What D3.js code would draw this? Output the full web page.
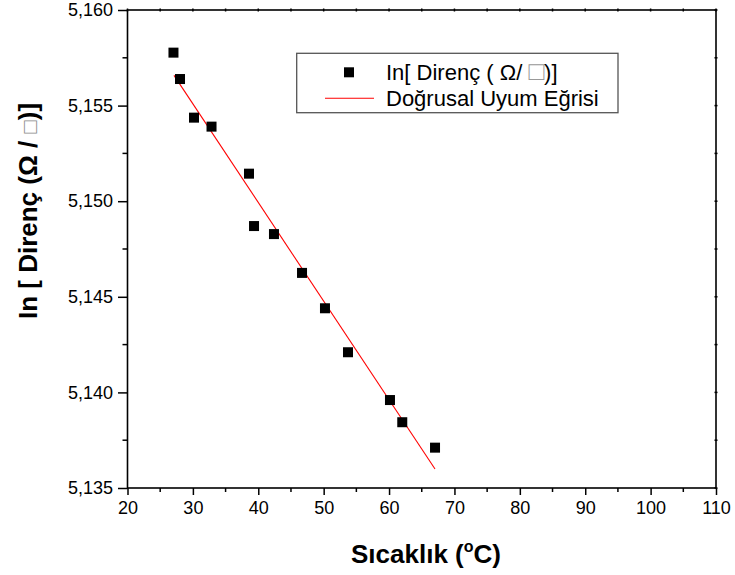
<!DOCTYPE html>
<html>
<head>
<meta charset="utf-8">
<script src="https://cdn.jsdelivr.net/npm/d3@7"></script>
<style>
  html, body { margin: 0; padding: 0; background: #fff; }
  svg { display: block; font-family: "Liberation Sans", Arial, Helvetica, sans-serif; }
</style>
</head>
<body>
<svg id="chart" width="735" height="575"></svg>
<script>
// ---- data ----
const temperature = [27.03, 28.03, 30.17, 32.85, 38.58, 39.35, 42.40, 46.69, 50.20, 53.72, 60.14, 62.02, 67.03];
const lnResistance = [5.15777, 5.15639, 5.15437, 5.15390, 5.15144, 5.14870, 5.14828, 5.14625, 5.14440, 5.14210, 5.13960, 5.13844, 5.13711];
const fitX = [27.11, 67.03];
const fitY = [5.15658, 5.13599];
const xTicks = [20, 30, 40, 50, 60, 70, 80, 90, 100, 110];
const yTicks = [5.135, 5.140, 5.145, 5.150, 5.155, 5.160];
const legendLabels = ["In[ Direnç ( Ω/ ", "Doğrusal Uyum Eğrisi"];

// ---- layout ----
const svg = d3.select("#chart");
const L = 127.5, R = 716, T = 10, B = 488;
const x = d3.scaleLinear().domain([20, 110]).range([L, R]);
const y = d3.scaleLinear().domain([5.135, 5.160]).range([B, T]);

const fmt = d => d3.format(".3f")(d).replace(".", ",");
const xMinor = d3.range(25, 110, 10);
const yMinor = d3.range(5.1375, 5.160, 0.005);

// minor ticks
const g = svg.append("g");
g.selectAll(".xminor").data(xMinor).join("line")
  .attr("x1", d => x(d)).attr("x2", d => x(d)).attr("y1", B).attr("y2", B + 4)
  .attr("stroke", "#000").attr("stroke-width", 1.5);
g.selectAll(".yminor").data(yMinor).join("line")
  .attr("x1", L - 5).attr("x2", L).attr("y1", d => y(d)).attr("y2", d => y(d))
  .attr("stroke", "#000").attr("stroke-width", 1.5);
// top / right small ticks
g.selectAll(".xtop").data(xTicks.concat(xMinor)).join("line")
  .attr("x1", d => x(d)).attr("x2", d => x(d)).attr("y1", T - 1.5).attr("y2", T + 1.5)
  .attr("stroke", "#000").attr("stroke-width", 1.5);
g.selectAll(".yright").data(yTicks.concat(yMinor)).join("line")
  .attr("x1", R - 1.5).attr("x2", R + 1.5).attr("y1", d => y(d)).attr("y2", d => y(d))
  .attr("stroke", "#000").attr("stroke-width", 1.5);

// axes
const xAxis = d3.axisBottom(x).tickValues(xTicks).tickSize(7).tickPadding(6).tickFormat(d3.format("d"));
const yAxis = d3.axisLeft(y).tickValues(yTicks).tickSize(9.5).tickPadding(5).tickFormat(fmt);

const gx = svg.append("g").attr("transform", `translate(0,${B})`).call(xAxis);
const gy = svg.append("g").attr("transform", `translate(${L},0)`).call(yAxis);
[gx, gy].forEach(a => {
  a.select(".domain").remove();
  a.selectAll(".tick line").attr("stroke", "#000").attr("stroke-width", 1.5);
  a.selectAll(".tick text").attr("fill", "#000").style("font-size", "18px")
   .style("font-family", "'Liberation Sans', Arial, sans-serif");
});

// frame
svg.append("rect").attr("x", L).attr("y", T).attr("width", R - L).attr("height", B - T)
  .attr("fill", "none").attr("stroke", "#000").attr("stroke-width", 1.6);

// fit line
const line = d3.line().x(d => x(d[0])).y(d => y(d[1]));
svg.append("path").datum(fitX.map((v, i) => [v, fitY[i]]))
  .attr("d", line).attr("fill", "none").attr("stroke", "#ff0000").attr("stroke-width", 1.1);

// points
const ms = 10;
svg.selectAll(".pt").data(temperature.map((v, i) => [v, lnResistance[i]])).join("rect")
  .attr("x", d => x(d[0]) - ms / 2).attr("y", d => y(d[1]) - ms / 2)
  .attr("width", ms).attr("height", ms).attr("fill", "#000");

// legend
const lg = svg.append("g");
lg.append("rect").attr("x", 296.7).attr("y", 53.3).attr("width", 321.3).attr("height", 59.4)
  .attr("fill", "#fff").attr("stroke", "#555").attr("stroke-width", 1.3);
lg.append("rect").attr("x", 349 - ms / 2).attr("y", 72.3 - ms / 2).attr("width", ms).attr("height", ms).attr("fill", "#000");
lg.append("line").attr("x1", 325).attr("x2", 374).attr("y1", 98.3).attr("y2", 98.3)
  .attr("stroke", "#ff0000").attr("stroke-width", 1.1);
const t1 = lg.append("text").attr("x", 386).attr("y", 80).style("font-size", "22px").attr("fill", "#000");
t1.append("tspan").text(legendLabels[0]);
t1.append("tspan").text("□").attr("fill", "#999").style("font-size", "26px");
t1.append("tspan").text(")]");
lg.append("text").attr("x", 386).attr("y", 105.5).style("font-size", "22px").attr("fill", "#000").text(legendLabels[1]);

// x title
const xt = svg.append("text").attr("x", 426).attr("y", 563).attr("text-anchor", "middle")
  .style("font-size", "26px").style("font-weight", "bold").attr("fill", "#000");
xt.append("tspan").text("Sıcaklık (");
xt.append("tspan").text("o").style("font-size", "16px").attr("dy", -11);
xt.append("tspan").text("C)").attr("dy", 11);

// y title
const yt = svg.append("text").attr("transform", "translate(37,211) rotate(-90)").attr("text-anchor", "middle")
  .style("font-size", "26px").style("font-weight", "bold").attr("fill", "#000");
yt.append("tspan").text("In [ Direnç (Ω / ");
yt.append("tspan").text("□").style("font-weight", "normal").style("font-size", "22px").attr("fill", "#888");
yt.append("tspan").text(")]");
</script>
</body>
</html>
